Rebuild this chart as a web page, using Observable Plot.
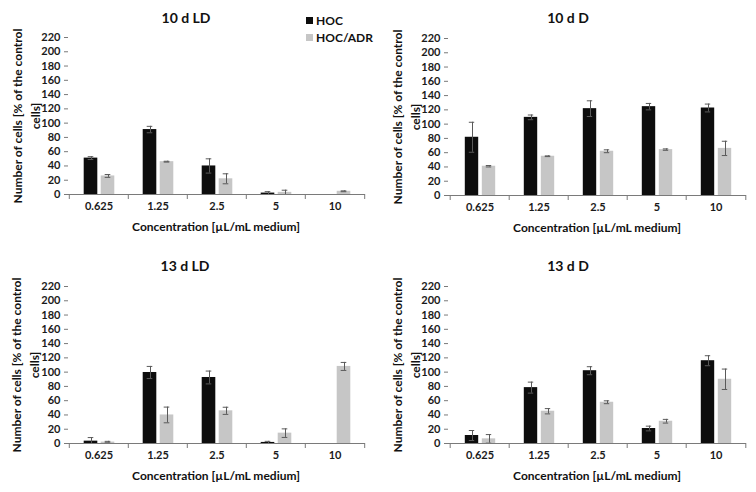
<!DOCTYPE html>
<html>
<head>
<meta charset="utf-8">
<script src="https://cdn.jsdelivr.net/npm/d3@7"></script>
<script src="https://cdn.jsdelivr.net/npm/@observablehq/plot@0.6"></script>
<style>
  body { margin: 0; background: #fff; }
  #chart { position: relative; width: 756px; height: 492px; background: #fff; font-family: Lato, "Open Sans", sans-serif; font-weight: bold; color: #111; overflow: hidden; }
  .panel { position: absolute; }
  .txt { position: absolute; white-space: nowrap; transform: translate(-50%, -50%); }
  .title { font-size: 14px; }
  .xlab { font-size: 12px; }
  .leg { position: absolute; font-size: 12px; display: flex; align-items: center; }
  .sw { width: 7px; height: 7px; margin-right: 3px; }
</style>
</head>
<body>
<div id="chart"></div>
<script>
// ---- data ----
const categories = ["0.625", "1.25", "2.5", "5", "10"];
const seriesNames = ["HOC", "HOC/ADR"];
const panelTitles = ["10 d LD", "10 d D", "13 d LD", "13 d D"];
const yTicks = [0, 20, 40, 60, 80, 100, 120, 140, 160, 180, 200, 220];
const xAxisLabel = "Concentration [µL/mL medium]";
const yAxisLabel = ["Number of cells [% of the control", "cells]"];

const hoc10LD    = [51, 91, 40, 2, 0];
const hoc10LDErr = [2, 4.5, 10, 2, 0];
const adr10LD    = [26, 46, 22, 3, 4.5];
const adr10LDErr = [2, 0.6, 7, 3, 0.6];

const hoc10D     = [81.6, 109.5, 121.7, 124.5, 122.6];
const hoc10DErr  = [21, 3.3, 11, 4.5, 5.5];
const adr10D     = [41, 55, 62, 64.3, 66];
const adr10DErr  = [1, 0.5, 2, 1, 10];

const hoc13LD    = [3.3, 99.5, 92.5, 1.5, 0];
const hoc13LDErr = [5, 8.5, 9, 1.5, 0];
const adr13LD    = [2, 40, 45.8, 14.5, 108];
const adr13LDErr = [1, 11, 5, 6, 5.6];

const hoc13D     = [11.2, 78.3, 102, 21, 116];
const hoc13DErr  = [7, 7.7, 5.6, 3.3, 7];
const adr13D     = [6.5, 45.2, 57.8, 31.2, 90];
const adr13DErr  = [6, 3.7, 2, 2.6, 14.3];

// ---- layout / style ----
const colors = {"HOC": "#0d0d0d", "HOC/ADR": "#c6c6c6"};
const errColor = "#5a5a5a";
const axisColor = "#7a7a7a";
const W = 378, H = 246;

const panels = [
  {title: panelTitles[0], hoc: hoc10LD, hocErr: hoc10LDErr, adr: adr10LD, adrErr: adr10LDErr,
   left: 0, top: 0, ml: 68, mr: 13, mt: 37, mb: 52, ylabX: 25,
   titleXY: [186, 17], xlabXY: [216, 226]},
  {title: panelTitles[1], hoc: hoc10D, hocErr: hoc10DErr, adr: adr10D, adrErr: adr10DErr,
   left: 378, top: 0, ml: 70, mr: 10, mt: 38, mb: 51, ylabX: 27,
   titleXY: [568, 17], xlabXY: [597, 227]},
  {title: panelTitles[2], hoc: hoc13LD, hocErr: hoc13LDErr, adr: adr13LD, adrErr: adr13LDErr,
   left: 0, top: 246, ml: 68, mr: 13, mt: 40, mb: 49, ylabX: 24,
   titleXY: [185, 265], xlabXY: [216, 475]},
  {title: panelTitles[3], hoc: hoc13D, hocErr: hoc13DErr, adr: adr13D, adrErr: adr13DErr,
   left: 378, top: 246, ml: 70, mr: 10, mt: 40, mb: 49, ylabX: 27,
   titleXY: [568, 265], xlabXY: [597, 475]}
];

const chart = document.getElementById("chart");

function addText(cls, xy, html) {
  const d = document.createElement("div");
  d.className = "txt " + cls;
  d.style.left = xy[0] + "px";
  d.style.top = xy[1] + "px";
  d.innerHTML = html;
  chart.appendChild(d);
}

const offsets = {"HOC": -8, "HOC/ADR": 9};
const barHalf = 7;
const capHalf = 3;

for (const p of panels) {
  const rows = categories.flatMap((c, i) => [
    {conc: c, series: seriesNames[0], value: p.hoc[i], err: p.hocErr[i]},
    {conc: c, series: seriesNames[1], value: p.adr[i], err: p.adrErr[i]}
  ]);
  const bw = (W - p.ml - p.mr) / categories.length;

  const marks = [];
  for (const s of seriesNames) {
    const sub = rows.filter(d => d.series === s);
    const o = offsets[s];
    marks.push(Plot.barY(sub, {
      x: "conc", y: "value", fill: colors[s],
      insetLeft: bw / 2 + o - barHalf, insetRight: bw / 2 - o - barHalf
    }));
  }
  for (const s of seriesNames) {
    const sub = rows.filter(d => d.series === s && d.err > 0);
    const o = offsets[s];
    marks.push(Plot.ruleX(sub, {
      x: "conc", y1: d => Math.max(0, d.value - d.err), y2: d => d.value + d.err,
      dx: o + 0.5, stroke: errColor, strokeWidth: 1
    }));
    marks.push(Plot.tickY(sub, {
      x: "conc", y: d => d.value + d.err, stroke: errColor, strokeWidth: 1,
      insetLeft: bw / 2 + o - capHalf, insetRight: bw / 2 - o - capHalf
    }));
    marks.push(Plot.tickY(sub, {
      x: "conc", y: d => Math.max(0, d.value - d.err), stroke: errColor, strokeWidth: 1,
      insetLeft: bw / 2 + o - capHalf, insetRight: bw / 2 - o - capHalf
    }));
  }
  // axes
  marks.push(Plot.axisY({ticks: yTicks, tickSize: 4, tickPadding: 4, stroke: axisColor, fill: "#1a1a1a", label: null}));
  marks.push(Plot.ruleX([0], {frameAnchor: "left", stroke: axisColor}));
  marks.push(Plot.ruleY([0], {stroke: axisColor}));
  marks.push(Plot.axisX({tickSize: 0, tickPadding: 8, fill: "#1a1a1a", label: null}));
  marks.push(Plot.axisX({ticks: categories, tickSize: 5, tickFormat: () => "", dx: -bw / 2, stroke: axisColor, label: null}));
  marks.push(Plot.axisX({ticks: categories.slice(-1), tickSize: 5, tickFormat: () => "", dx: bw / 2, stroke: axisColor, label: null}));
  // y axis title (two lines, rotated)
  marks.push(Plot.text([yAxisLabel.join("\n")], {
    frameAnchor: "left", dx: -(p.ml - p.ylabX), rotate: -90,
    textAnchor: "middle", lineAnchor: "middle", lineHeight: 1.45,
    fontSize: 12, fontWeight: "bold", fill: "#111"
  }));

  const svg = Plot.plot({
    width: W, height: H,
    marginLeft: p.ml, marginRight: p.mr, marginTop: p.mt, marginBottom: p.mb,
    x: {type: "band", domain: categories, padding: 0},
    y: {domain: [0, 220]},
    style: {fontFamily: "Lato, 'Open Sans', sans-serif", fontSize: "11px", fontWeight: "bold", overflow: "visible", background: "transparent"},
    marks
  });
  const wrap = document.createElement("div");
  wrap.className = "panel";
  wrap.style.left = p.left + "px";
  wrap.style.top = p.top + "px";
  wrap.appendChild(svg);
  chart.appendChild(wrap);

  addText("title", p.titleXY, p.title);
  addText("xlab", p.xlabXY, xAxisLabel);
}

// legend (top-left panel)
[[seriesNames[0], 20], [seriesNames[1], 37]].forEach(([name, cy]) => {
  const d = document.createElement("div");
  d.className = "leg";
  d.style.left = "306px";
  d.style.top = (cy - 8) + "px";
  d.style.height = "16px";
  d.innerHTML = `<span class="sw" style="background:${colors[name]}"></span><span>${name}</span>`;
  chart.appendChild(d);
});
</script>
</body>
</html>
